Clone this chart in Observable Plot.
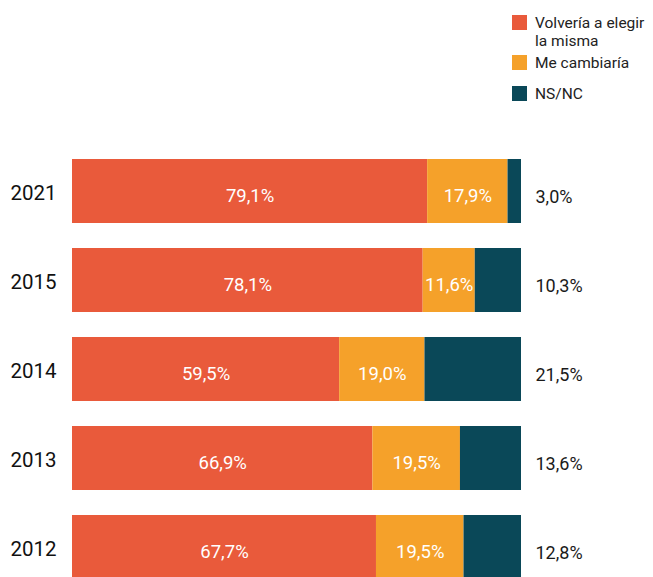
<!DOCTYPE html>
<html>
<head>
<meta charset="utf-8">
<script src="https://cdn.jsdelivr.net/npm/d3@7"></script>
<script src="https://cdn.jsdelivr.net/npm/@observablehq/plot@0.6"></script>
<style>
  html, body { margin: 0; padding: 0; background: #fff; overflow: hidden; }
  body { width: 653px; height: 577px; position: relative; font-family: Roboto, "Noto Sans", sans-serif; }
  #legend { position: absolute; left: 512px; top: 15px; width: 141px; font-size: 15.5px; color: #222; line-height: 18px; }
  .item { display: flex; align-items: flex-start; }
  .sw { width: 15px; height: 15px; flex: 0 0 15px; margin-right: 8px; margin-top: 0px; }
  .txt { margin-top: -1px; }
  #chart { position: absolute; left: 0; top: 130px; }
</style>
</head>
<body>
<div id="legend"></div>
<div id="chart"></div>
<script>
const years = ["2021", "2015", "2014", "2013", "2012"];
const volveria = [79.1, 78.1, 59.5, 66.9, 67.7];
const cambiaria = [17.9, 11.6, 19.0, 19.5, 19.5];
const nsnc = [3.0, 10.3, 21.5, 13.6, 12.8];
const seriesNames = ["Volvería a elegir la misma", "Me cambiaría", "NS/NC"];
const legendLabels = ["Volvería a elegir<br>la misma", "Me cambiaría", "NS/NC"];
const colors = ["#E95A3B", "#F5A12A", "#0A4858"];

const seriesValues = [volveria, cambiaria, nsnc];
const data = [];
years.forEach((y, i) => {
  seriesNames.forEach((s, j) => data.push({year: y, series: s, value: seriesValues[j][i]}));
});
const fmt = v => v.toFixed(1).replace(".", ",") + "%";

// legend
const legend = document.getElementById("legend");
const gaps = [5, 14, 0];
seriesNames.forEach((s, j) => {
  const it = document.createElement("div");
  it.className = "item";
  it.style.marginBottom = gaps[j] + "px";
  it.innerHTML = `<span class="sw" style="background:${colors[j]}"></span><span class="txt">${legendLabels[j]}</span>`;
  legend.appendChild(it);
});

const chart = Plot.plot({
  width: 653,
  height: 461,
  marginLeft: 72,
  marginRight: 132,
  marginTop: 27,
  marginBottom: 10,
  style: {fontFamily: "Roboto, 'Noto Sans', sans-serif", background: "#fff"},
  x: {domain: [0, 100], axis: null},
  y: {domain: years, axis: null, paddingInner: 0.2758, paddingOuter: 0},
  color: {domain: seriesNames, range: colors},
  marks: [
    Plot.barX(data, {x: "value", y: "year", fill: "series", order: seriesNames}),
    Plot.text(data, Plot.stackX({
      x: "value", y: "year", z: "series", order: seriesNames,
      text: d => d.series === "NS/NC" ? null : fmt(d.value),
      fill: "#fff", fontSize: 18.5, fontWeight: 400, dy: 5
    })),
    Plot.text(data.filter(d => d.series === "NS/NC"), {
      y: "year", frameAnchor: "right", dx: 14, textAnchor: "start",
      text: d => fmt(d.value), fill: "#1a1a1a", fontSize: 18, dy: 6
    }),
    Plot.text(years, {
      y: d => d, frameAnchor: "left", dx: -62, textAnchor: "start",
      text: d => d, fill: "#111", fontSize: 20.5, fontWeight: 400, dy: 2
    })
  ]
});
document.getElementById("chart").appendChild(chart);
</script>
</body>
</html>
